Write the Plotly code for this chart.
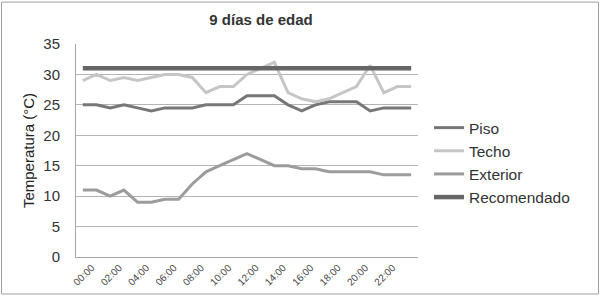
import plotly.graph_objects as go

# ---- data ----
indice_hora = list(range(25))
tick_pos = [0, 2, 4, 6, 8, 10, 12, 14, 16, 18, 20, 22]
tick_text = ["00:00", "02:00", "04:00", "06:00", "08:00", "10:00",
             "12:00", "14:00", "16:00", "18:00", "20:00", "22:00"]

piso = [25, 25, 24.5, 25, 24.5, 24, 24.5, 24.5, 24.5, 25, 25, 25, 26.5,
        26.5, 26.5, 25, 24, 25, 25.5, 25.5, 25.5, 24, 24.5, 24.5, 24.5]
techo = [29, 30, 29, 29.5, 29, 29.5, 30, 30, 29.5, 27, 28, 28, 30,
         31, 32, 27, 26, 25.5, 26, 27, 28, 31.5, 27, 28, 28]
exterior = [11, 11, 10, 11, 9, 9, 9.5, 9.5, 12, 14, 15, 16, 17,
            16, 15, 15, 14.5, 14.5, 14, 14, 14, 14, 13.5, 13.5, 13.5]
recomendado = [31] * 25

series = [
    ("Piso", piso, "#777777", 3),
    ("Techo", techo, "#c6c6c6", 3),
    ("Exterior", exterior, "#9c9c9c", 3),
    ("Recomendado", recomendado, "#666666", 4.5),
]

FONT = "Liberation Sans, Arial, sans-serif"

fig = go.Figure()
for i, (name, vals, color, w) in enumerate(series):
    fig.add_trace(go.Scatter(
        x=indice_hora, y=vals, name=name, mode="lines",
        line=dict(color=color, width=w),
    ))

L, R, T, B = 76, 182, 44, 40
W, H = 600, 300
pw, ph = W - L - R, H - T - B

def px_x(x):
    return (x - L) / pw

def px_y(y):
    return 1 - (y - T) / ph

# rotated labels are centred under their category (Excel style)
label_shift = 0.65

fig.update_layout(
    width=W, height=H,
    margin=dict(l=L, r=R, t=T, b=B),
    paper_bgcolor="white", plot_bgcolor="white",
    font=dict(family=FONT, color="#333333"),
    title=dict(text="<b>9 días de edad</b>", x=px_x(261), xref="paper",
               xanchor="center", y=1 - 20 / H, yanchor="middle",
               font=dict(size=15, color="#333333", family=FONT)),
    showlegend=True,
    legend=dict(x=px_x(429), y=px_y(112), xanchor="left", yanchor="top",
                font=dict(size=15.5, color="#333333", family=FONT),
                tracegroupgap=0, bgcolor="rgba(0,0,0,0)"),
    xaxis=dict(range=[-0.5, 24.5], tickmode="array",
               tickvals=[p + label_shift for p in tick_pos],
               ticktext=tick_text, tickangle=-45, showgrid=False,
               showline=True, linecolor="#a8a8a8", linewidth=1,
               ticks="", zeroline=False,
               tickfont=dict(size=10, color="#444444", family=FONT)),
    yaxis=dict(range=[0, 35], dtick=5, showgrid=True, gridcolor="#b4b4b4",
               gridwidth=1, showline=True, linecolor="#a8a8a8", linewidth=1,
               zeroline=False, ticks="", ticklabelstandoff=12,
               tickfont=dict(size=15, color="#333333", family=FONT),
               title=dict(text="Temperatura (°C)", standoff=5,
                          font=dict(size=15, color="#222222", family=FONT))),
)

# outer chart border
fig.add_shape(type="rect", xref="paper", yref="paper",
              x0=px_x(1.5), x1=px_x(598.5), y0=px_y(297.5), y1=px_y(1.5),
              line=dict(color="#a0a0a0", width=1), fillcolor="rgba(0,0,0,0)",
              layer="below")

fig.write_html("out.html")
